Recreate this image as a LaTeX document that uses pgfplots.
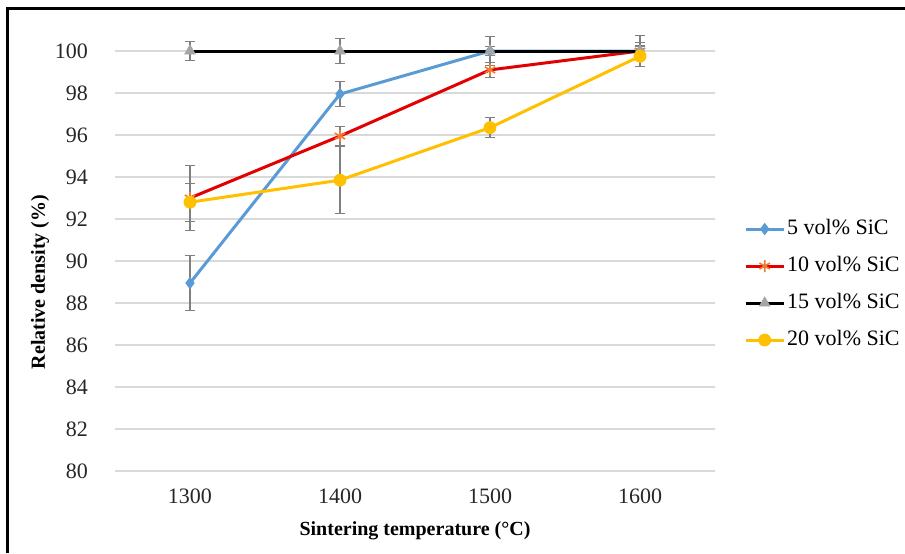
\documentclass[border=0pt]{standalone}
\usepackage{pgfplots}
\pgfplotsset{compat=1.18}
\usepackage{fontspec}
\setmainfont{Liberation Serif}

\definecolor{cBlue}{HTML}{5B9BD5}
\definecolor{cRed}{HTML}{E20000}
\definecolor{cOrange}{HTML}{ED7D31}
\definecolor{cTri}{HTML}{A5A5A5}
\definecolor{cYellow}{HTML}{FFC000}
\definecolor{cGrid}{HTML}{D9D9D9}
\definecolor{cErr}{HTML}{7F7F7F}

\begin{document}
\begin{tikzpicture}
\begin{axis}[
  scale only axis, width=300pt, height=210pt,
  xmin=1250, xmax=1650, ymin=80, ymax=100,
  xtick={1300,1400,1500,1600}, ytick={80,82,...,100},
  ymajorgrids, grid style={cGrid, line width=0.6pt},
  axis line style={draw=none}, major tick length=0pt,
  clip=false,
  /pgf/number format/assume math mode=true,
  /pgf/number format/1000 sep={},
  tick label style={font=\fontsize{11}{13}\selectfont, text=black!85},
  yticklabel style={xshift=-10pt},
  xticklabel style={yshift=-5.5pt},
  xlabel={Sintering temperature (°C)},
  ylabel={Relative density (\%)},
  label style={font=\fontsize{10}{12}\selectfont\bfseries},
  xlabel style={at={(axis description cs:0.5,-0.142)}, anchor=center},
  ylabel style={at={(axis description cs:-0.125,0.45)}, anchor=center},
  legend style={draw=none, fill=none, at={(axis description cs:1.048,0.444)},
    anchor=west, font=\fontsize{11}{13}\selectfont, row sep=6pt, inner sep=0pt,
    nodes={inner sep=1pt, text height=8pt, text depth=2.5pt}},
  legend cell align=left,
  legend image code/.code={\draw[mark repeat=2, mark phase=2]
    plot coordinates {(0pt,0pt) (9.5pt,0pt) (19pt,0pt)};},
  every axis plot/.append style={line width=1.5pt},
  error bars/y dir=both, error bars/y explicit,
  error bars/error bar style={cErr, line width=0.6pt},
  error bars/error mark options={cErr, rotate=90, mark size=2.6pt, line width=0.6pt},
]
% 5 vol% SiC
\addplot[cBlue, mark=diamond*, mark size=2.8pt,
  mark options={fill=cBlue, draw=cBlue, line width=0.4pt}]
  coordinates {(1300,88.95) +- (0,1.3) (1400,97.95) +- (0,0.6)
               (1500,100) +- (0,0.2) (1600,100) +- (0,0.2)};
\addlegendentry{5 vol\% SiC}
% 10 vol% SiC
\addplot[cRed, mark=asterisk, mark size=3pt,
  mark options={draw=cOrange, line width=0.8pt}]
  coordinates {(1300,93.0) +- (0,1.55) (1400,95.95) +- (0,0.45)
               (1500,99.1) +- (0,0.35) (1600,100) +- (0,0.4)};
\addlegendentry{10 vol\% SiC}
% 15 vol% SiC
\addplot[black, mark=triangle*, mark size=3pt,
  mark options={fill=cTri, draw=cTri, line width=0.4pt}]
  coordinates {(1300,100) +- (0,0.45) (1400,100) +- (0,0.6)
               (1500,100) +- (0,0.7) (1600,100) +- (0,0.72)};
\addlegendentry{15 vol\% SiC}
% 20 vol% SiC
\addplot[cYellow, mark=*, mark size=3pt,
  mark options={fill=cYellow, draw=cYellow, line width=0.4pt}]
  coordinates {(1300,92.8) +- (0,0.9) (1400,93.85) +- (0,1.6)
               (1500,96.35) +- (0,0.48) (1600,99.75) +- (0,0.5)};
\addlegendentry{20 vol\% SiC}
\end{axis}
\pgfresetboundingbox
\useasboundingbox (-57.5pt,-41pt) rectangle (395pt,235.5pt);
\draw[line width=1.2pt] (-53.75pt,-41pt) -- (-53.75pt,231.2pt) -- (395pt,231.2pt);
\end{tikzpicture}
\end{document}
